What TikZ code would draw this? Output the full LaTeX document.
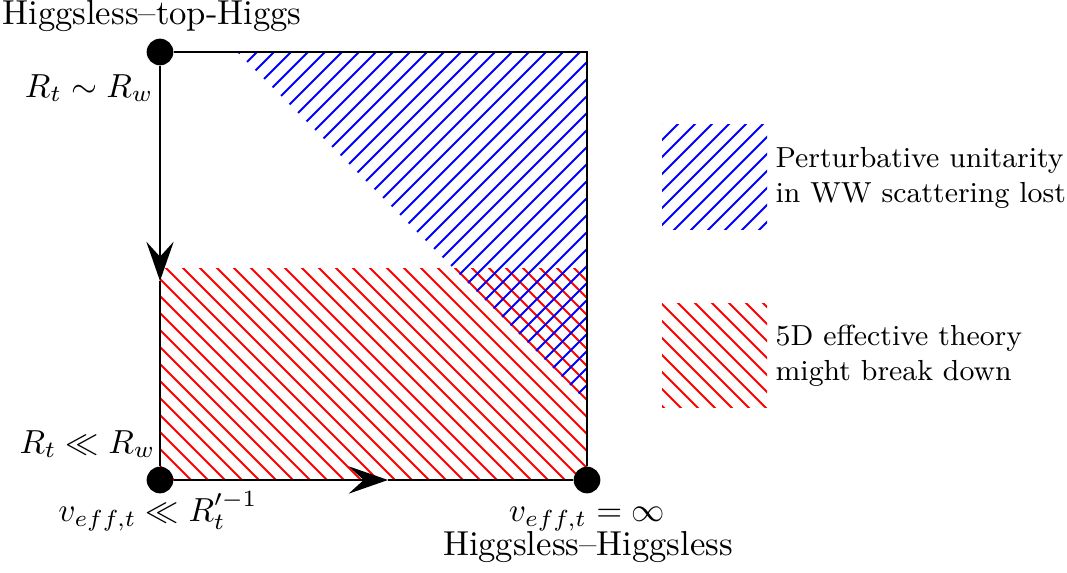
\documentclass[tikz,border=0pt]{standalone}
\usetikzlibrary{arrows.meta}
\begin{document}
\begin{tikzpicture}[x=0.3pt,y=-0.3pt,
  dot/.style={circle,fill=black,inner sep=0pt,minimum size=8pt},
  edge/.style={line width=0.75pt},
  hatch/.style={line width=0.6pt},
  lbl/.style={font=\fontsize{10.4}{12.5}\selectfont, inner sep=0pt},
  leg/.style={font=\fontsize{8.7}{10.5}\selectfont, inner sep=0pt},
  arr/.style={-{Stealth[length=11.8pt,width=8.2pt,inset=4.5pt]}}]
\useasboundingbox (0,0) rectangle (1067,573);

% red hatched region
\begin{scope}
  \clip (160,268) rectangle (587,480);
  \foreach \k in {-20,...,20}
    \draw[red,hatch] ({17*\k},0) -- ({17*\k+700},700);
\end{scope}
% blue hatched region
\begin{scope}
  \clip (237,52) -- (587,52) -- (587,402) -- cycle;
  \foreach \k in {15,...,60}
    \draw[blue,hatch] ({3+17*\k-700},700) -- ({3+17*\k},0);
\end{scope}

% legend boxes
\begin{scope}
  \clip (662,124) rectangle (767,229);
  \foreach \k in {44,...,60}
    \draw[blue,hatch] ({3+17*\k-700},700) -- ({3+17*\k},0);
\end{scope}
\begin{scope}
  \clip (662,303) rectangle (767,407);
  \foreach \k in {12,...,30}
    \draw[red,hatch] ({1+17*\k},0) -- ({1+17*\k+700},700);
\end{scope}

% corners
\node[dot] (tl) at (160,52) {};
\coordinate (tr) at (587,52);
\node[dot] (bl) at (160,480) {};
\node[dot] (br) at (587,480) {};
\coordinate (la) at (160,281);
\coordinate (ba) at (388,480);

% square edges
\draw[edge] (tl) -- (tr) -- (br);
\draw[edge,arr] (tl) -- (la);
\draw[edge] (la) -- (bl);
\draw[edge,arr] (bl) -- (ba);
\draw[edge] (ba) -- (br);

% labels
\node[lbl,anchor=base] (ttop) at (152,25) {Higgsless--top-Higgs};
\node[lbl,anchor=base east] (rsim) at (154,97) {$R_t\sim R_w$};
\node[lbl,anchor=base east] (rll) at (156,453) {$R_t\ll R_w$};
\node[lbl,anchor=base] (vll) at (158,521) {$v_{eff,t}\ll R_t'^{-1}$};
\node[lbl,anchor=base] (vinf) at (587,521) {$v_{eff,t}=\infty$};
\node[lbl,anchor=base] (thh) at (588,555) {Higgsless--Higgsless};

% legend text
\node[leg,anchor=base west] (l1a) at (775,167) {Perturbative unitarity};
\node[leg,anchor=base west] (l1b) at (775,202) {in WW scattering lost};
\node[leg,anchor=base west] (l2a) at (775,345) {5D effective theory};
\node[leg,anchor=base west] (l2b) at (775,380) {might break down};
\end{tikzpicture}
\end{document}
